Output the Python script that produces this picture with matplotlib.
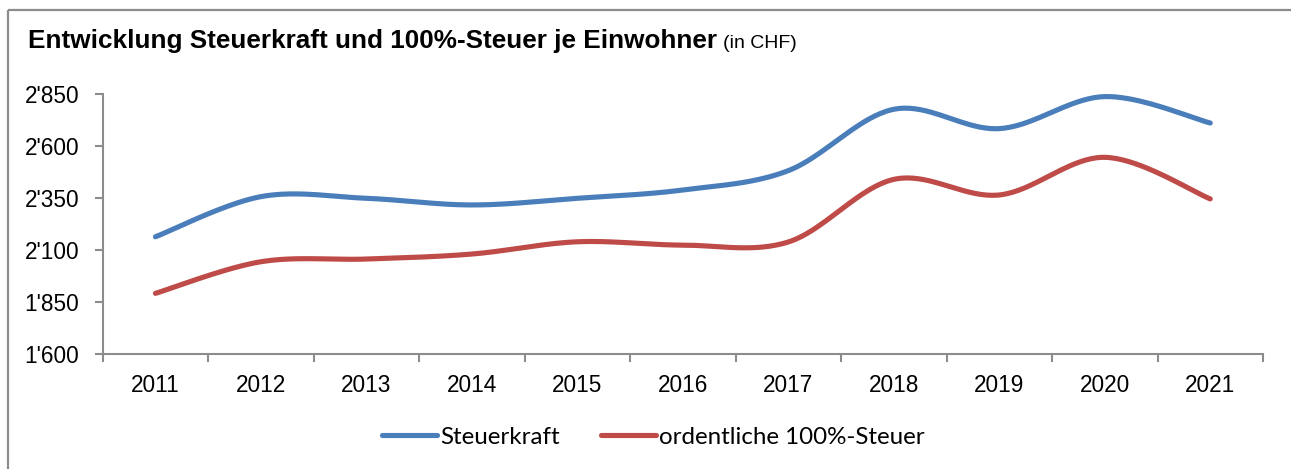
import numpy as np
import matplotlib
matplotlib.use("Agg")
import matplotlib.pyplot as plt
from matplotlib.lines import Line2D

years = ["2011", "2012", "2013", "2014", "2015", "2016", "2017", "2018", "2019", "2020", "2021"]
steuerkraft = [2165, 2358, 2350, 2318, 2350, 2390, 2483, 2778, 2685, 2839, 2712]
steuer100 = [1893, 2045, 2058, 2082, 2141, 2125, 2140, 2441, 2366, 2547, 2347]
yticks = [1600, 1850, 2100, 2350, 2600, 2850]
ytick_labels = ["1'600", "1'850", "2'100", "2'350", "2'600", "2'850"]
series_names = ["Steuerkraft", "ordentliche 100%-Steuer"]
colors = ["#4A7EBB", "#BE4B48"]


def smooth(x, y, n=40):
    x = np.asarray(x, float)
    y = np.asarray(y, float)
    pts = np.column_stack([x, y])
    out = []
    for i in range(len(pts) - 1):
        p0 = pts[i - 1] if i > 0 else pts[i]
        p1 = pts[i]
        p2 = pts[i + 1]
        p3 = pts[i + 2] if i + 2 < len(pts) else pts[i + 1]
        c1 = p1 + (p2 - p0) / 6.0
        c2 = p2 - (p3 - p1) / 6.0
        t = np.linspace(0, 1, n)[:, None]
        seg = ((1 - t) ** 3) * p1 + 3 * ((1 - t) ** 2) * t * c1 + 3 * (1 - t) * t ** 2 * c2 + t ** 3 * p2
        out.append(seg if i == 0 else seg[1:])
    out = np.vstack(out)
    return out[:, 0], out[:, 1]


W, H = 1291, 469
fig = plt.figure(figsize=(W / 100, H / 100), dpi=100)
fig.patch.set_facecolor("white")

# outer frame (top and left edges visible)
frame_kw = dict(transform=fig.transFigure, color="#8C8C8C", linewidth=1.6, solid_capstyle="butt")
fig.add_artist(Line2D([7.5 / W, 1.0], [1 - 10.5 / H, 1 - 10.5 / H], **frame_kw))
fig.add_artist(Line2D([7.5 / W, 7.5 / W], [0, 1 - 10.5 / H], **frame_kw))

left, right = 102.7 / W, 1263 / W
bottom, top = 1 - 354.3 / H, 1 - 94.3 / H
ax = fig.add_axes([left, bottom, right - left, top - bottom])

x = np.arange(len(years))
for vals, c in zip([steuerkraft, steuer100], colors):
    sx, sy = smooth(x, vals)
    ax.plot(sx, sy, color=c, linewidth=3.7, solid_capstyle="round", solid_joinstyle="round")

ax.set_xlim(-0.5, len(years) - 0.5)
ax.set_ylim(1600, 2850)
ax.set_yticks(yticks)
ax.set_yticklabels(ytick_labels, fontsize=16.3, family="Liberation Sans")
ax.set_xticks(np.arange(-0.5, len(years), 1.0))
ax.set_xticklabels([])
ax.set_xticks(x, minor=True)
ax.set_xticklabels(years, minor=True, fontsize=16.3, family="Liberation Sans")
ax.tick_params(axis="x", which="minor", length=0, pad=14)
ax.tick_params(axis="x", which="major", length=6, width=1.5, color="#8C8C8C", direction="out")
ax.tick_params(axis="y", length=6, width=1.5, color="#8C8C8C", direction="out", pad=11)
for s in ["top", "right"]:
    ax.spines[s].set_visible(False)
for s in ["left", "bottom"]:
    ax.spines[s].set_color("#8C8C8C")
    ax.spines[s].set_linewidth(1.5)

# title
t1 = fig.text(28 / W, 1 - 48 / H, "Entwicklung Steuerkraft und 100%-Steuer je Einwohner", fontsize=18.8,
              fontweight="bold", family="Liberation Sans", ha="left", va="baseline")
renderer = fig.canvas.get_renderer()
bb = t1.get_window_extent(renderer)
fig.text((bb.x1 + 6) / W, 1 - 48 / H, "(in CHF)", fontsize=14, family="Liberation Sans",
         ha="left", va="baseline")

handles = [Line2D([], [], color=c, linewidth=3.7, solid_capstyle="round") for c in colors]
fig.legend(handles, series_names, loc="center", bbox_to_anchor=(653 / W, 1 - 437 / H), ncol=2,
           frameon=False, prop={"family": "Lato", "size": 17.4}, handlelength=2.3, handletextpad=0.1,
           columnspacing=1.7)

fig.savefig("out.png", dpi=100, facecolor="white")
